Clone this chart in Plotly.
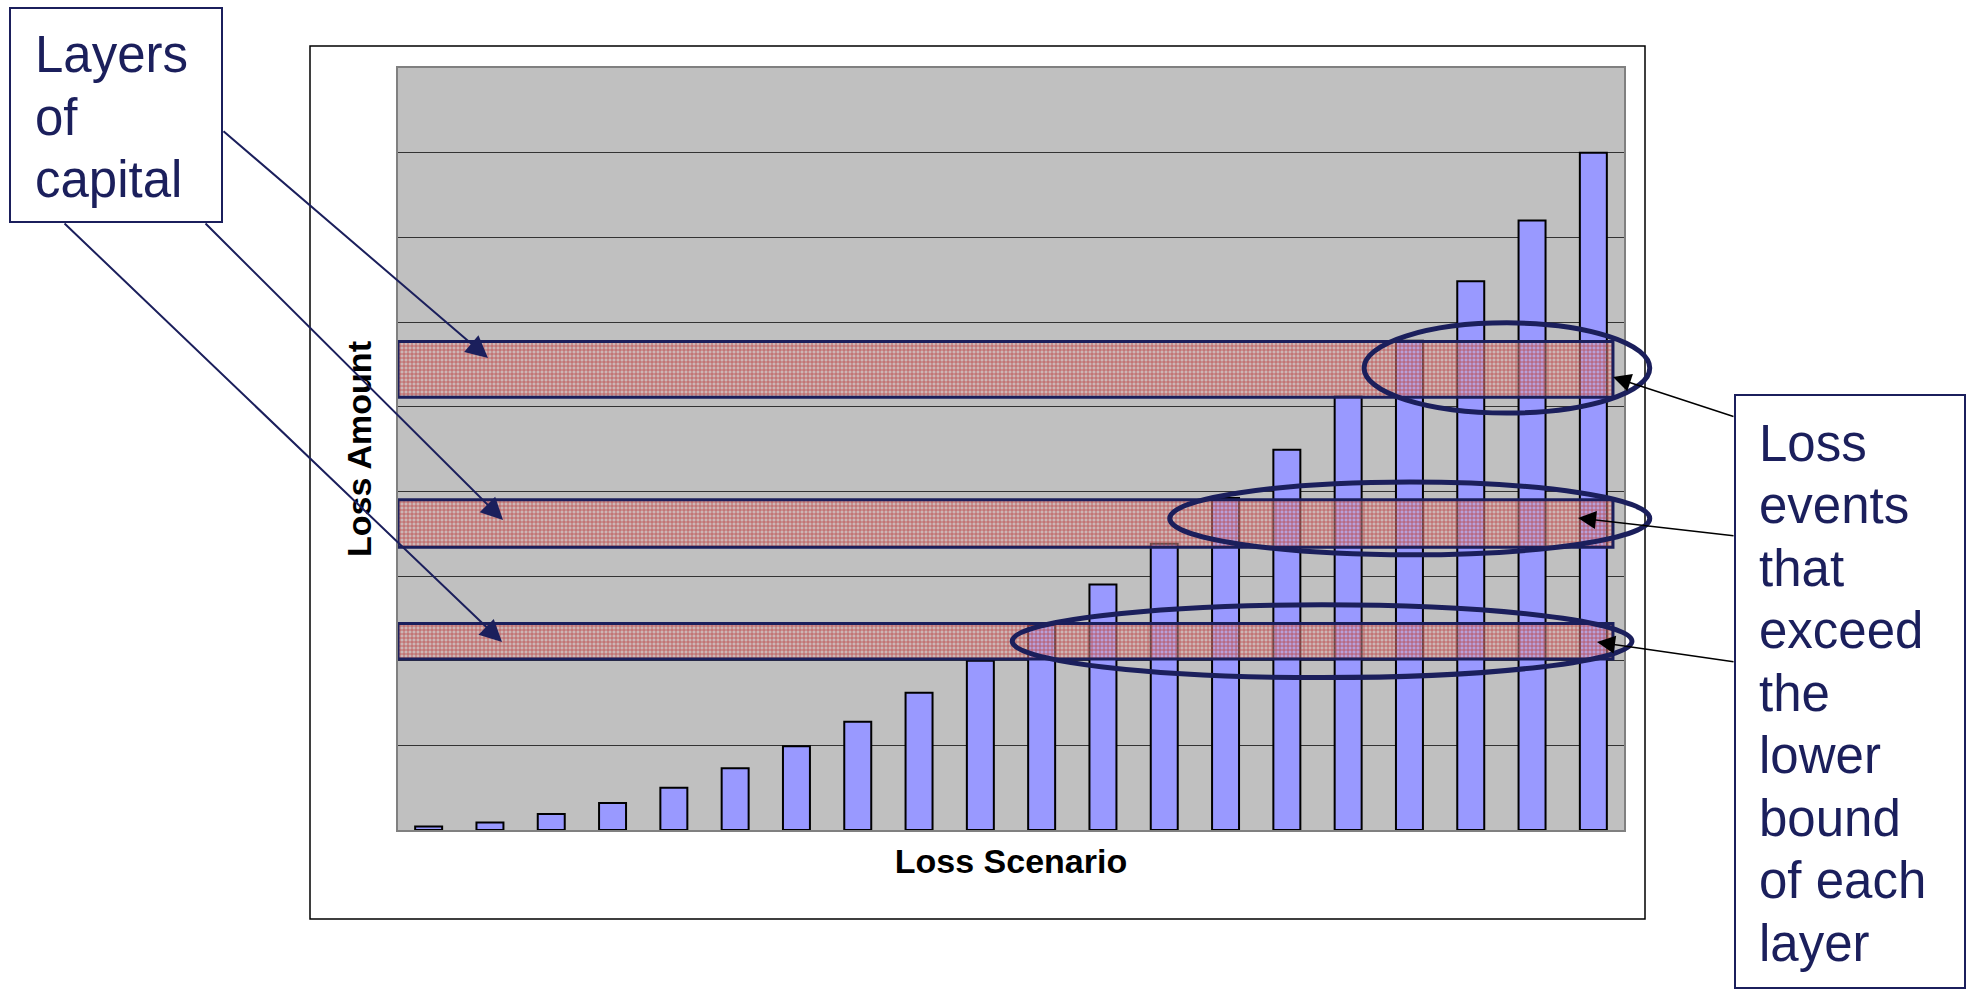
import plotly.graph_objects as go

# ---- data -------------------------------------------------------------
scenarios = list(range(1, 21))
loss_amount = [0.04, 0.09, 0.19, 0.32, 0.50, 0.73, 0.99, 1.28, 1.62, 2.00,
               2.42, 2.90, 3.38, 3.92, 4.49, 5.12, 5.78, 6.48, 7.20, 8.00]

# capital layers: lower and upper bound of each layer
layer_low = [2.02, 3.34, 5.11]
layer_high = [2.44, 3.90, 5.77]

# loss events exceeding each layer's lower bound (ellipse extents, axis units)
ring_x0 = [9.52, 12.09, 15.26]
ring_x1 = [19.63, 19.92, 19.92]
ring_y0 = [1.80, 3.25, 4.925]
ring_y1 = [2.66, 4.11, 5.99]

left_label = ["Layers", "of", "capital"]
right_label = ["Loss", "events", "that", "exceed", "the", "lower", "bound",
               "of each", "layer"]

# ---- styling / geometry -------------------------------------------------
W, H = 1969, 989
ML, MR, MT, MB = 398, 345, 68, 159
PW, PH = W - ML - MR, H - MT - MB
XR = (-0.5, 19.5)
YR = (0, 9)
NAVY = "#1b1f5c"
FONT = "Liberation Sans, Arial, sans-serif"
LAYER_RIGHT = 19.32


def xp(x):
    return (x - XR[0]) / (XR[1] - XR[0])


def yp(y):
    return (y - YR[0]) / (YR[1] - YR[0])


def pix_x(px):
    return (px - ML) / PW


def pix_y(py):
    return (MT + PH - py) / PH


x_idx = [s - 1 for s in scenarios]

fig = go.Figure()
fig.add_trace(go.Bar(
    x=x_idx, y=loss_amount,
    marker=dict(color="#9999ff", line=dict(color="black", width=2)),
    width=0.44, hoverinfo="skip", showlegend=False,
))

for lo, hi in zip(layer_low, layer_high):
    fig.add_trace(go.Scatter(
        x=[-0.5, LAYER_RIGHT, LAYER_RIGHT, -0.5, -0.5],
        y=[lo, lo, hi, hi, lo],
        mode="lines", fill="toself",
        fillcolor="rgba(222,172,172,0.45)",
        fillpattern=dict(shape="+", fgcolor="#b53434", fgopacity=0.8,
                         size=4, solidity=0.35),
        line=dict(color=NAVY, width=3),
        hoverinfo="skip", showlegend=False,
    ))

shapes = []
# chart frame
shapes.append(dict(type="rect", xref="paper", yref="paper",
                   x0=pix_x(310), x1=pix_x(1645), y0=pix_y(919), y1=pix_y(46),
                   line=dict(color="black", width=1.5), layer="below"))
# ellipses around exceeding losses
for a, b, c, d in zip(ring_x0, ring_x1, ring_y0, ring_y1):
    shapes.append(dict(type="circle", xref="paper", yref="paper",
                       x0=xp(a), x1=xp(b), y0=yp(c), y1=yp(d),
                       line=dict(color=NAVY, width=5)))
# text boxes
shapes.append(dict(type="rect", xref="paper", yref="paper",
                   x0=pix_x(10), x1=pix_x(222), y0=pix_y(222), y1=pix_y(8),
                   line=dict(color=NAVY, width=2), fillcolor="white"))
shapes.append(dict(type="rect", xref="paper", yref="paper",
                   x0=pix_x(1735), x1=pix_x(1965), y0=pix_y(988), y1=pix_y(395),
                   line=dict(color=NAVY, width=2), fillcolor="white"))

annotations = []
# label text, one line per annotation
for i, t in enumerate(left_label):
    base = 71.6 + 62.6 * i
    annotations.append(dict(text=t, xref="paper", yref="paper",
                            x=pix_x(33), y=pix_y(base - 17), xanchor="left",
                            yanchor="middle", showarrow=False,
                            font=dict(family=FONT, size=51, color=NAVY)))
for i, t in enumerate(right_label):
    base = 460 + 62.5 * i
    annotations.append(dict(text=t, xref="paper", yref="paper",
                            x=pix_x(1757), y=pix_y(base - 17), xanchor="left",
                            yanchor="middle", showarrow=False,
                            font=dict(family=FONT, size=51, color=NAVY)))

# arrows from "Layers of capital" to each layer
left_tips = [(0.968, 5.575, -266, -228), (1.213, 3.661, -299, -298),
             (1.197, 2.220, -439, -420)]
for x, y, ax, ay in left_tips:
    annotations.append(dict(x=x, y=y, xref="x", yref="y", ax=ax, ay=ay,
                            axref="pixel", ayref="pixel", text="",
                            showarrow=True, arrowhead=2, arrowsize=2.2,
                            arrowwidth=2, arrowcolor=NAVY, standoff=0))
# arrows from the loss-event label to each ring
right_tips = [(19.32, 5.35, 122, 40), (18.75, 3.685, 157, 18),
              (19.06, 2.22, 138, 20)]
for x, y, ax, ay in right_tips:
    annotations.append(dict(x=x, y=y, xref="x", yref="y", ax=ax, ay=ay,
                            axref="pixel", ayref="pixel", text="",
                            showarrow=True, arrowhead=2, arrowsize=2.4,
                            arrowwidth=1.5, arrowcolor="black", standoff=0))

fig.update_layout(
    width=W, height=H,
    margin=dict(l=ML, r=MR, t=MT, b=MB, pad=0),
    paper_bgcolor="white", plot_bgcolor="#c0c0c0",
    bargap=0.56, showlegend=False,
    shapes=shapes, annotations=annotations,
    xaxis=dict(range=list(XR), showticklabels=False, ticks="", showgrid=False,
               zeroline=False, showline=True, mirror=True, linecolor="#808080",
               linewidth=2,
               title=dict(text="<b>Loss Scenario</b>", standoff=18,
                          font=dict(family=FONT, size=34, color="black"))),
    yaxis=dict(range=list(YR), dtick=1, showticklabels=False, ticks="",
               showgrid=True, gridcolor="#333333", gridwidth=1, zeroline=False,
               showline=True, mirror=True, linecolor="#808080", linewidth=2,
               title=dict(text="<b>Loss Amount</b>", standoff=14,
                          font=dict(family=FONT, size=34, color="black"))),
)

fig.write_html("out.html")
